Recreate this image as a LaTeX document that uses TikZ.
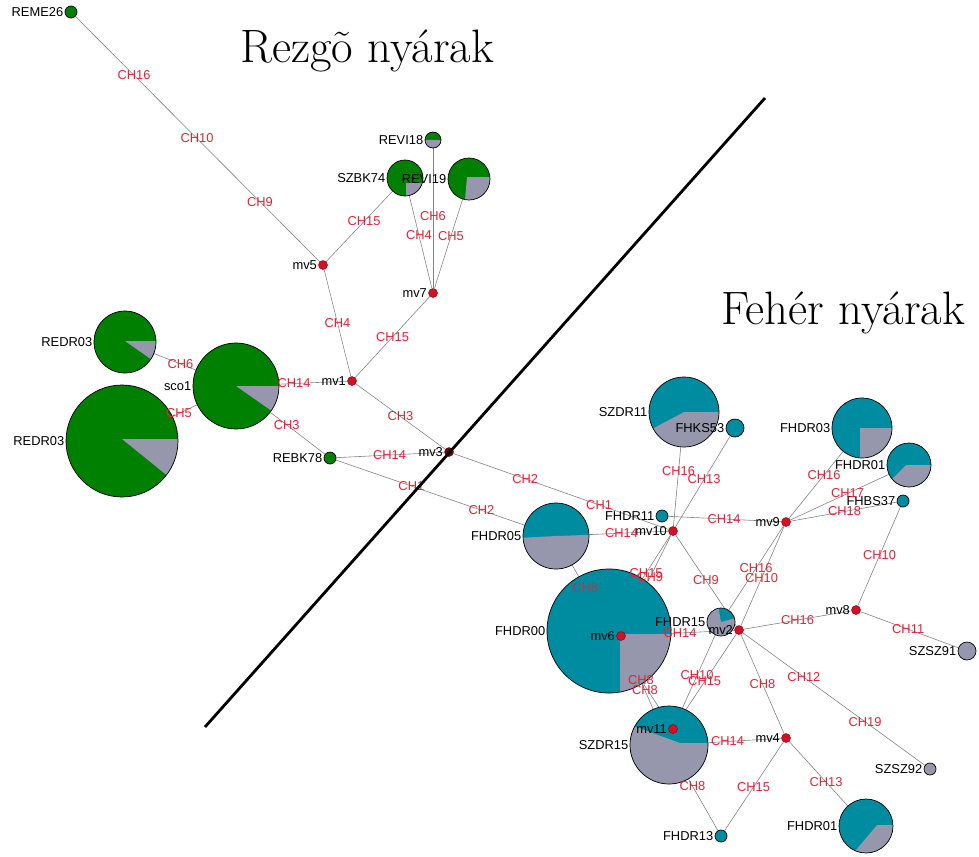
\documentclass[tikz,border=0pt]{standalone}
\usepackage{fontspec}
\setsansfont{Liberation Sans}
\usetikzlibrary{backgrounds}
\definecolor{hgreen}{RGB}{0,128,0}
\definecolor{hteal}{RGB}{0,140,160}
\definecolor{hgrey}{RGB}{150,150,172}
\definecolor{mvred}{RGB}{215,15,35}
\definecolor{chred}{RGB}{228,35,55}
\definecolor{lngrey}{RGB}{130,130,130}
\tikzset{%
	hap/.style={circle, draw=black, line width=0.6pt, inner sep=0pt, minimum size=#1*0.06cm},
	gpie/.style n args={4}{path picture={\fill[hgrey] ([shift={({#1*0.03cm},{#2*0.03cm})}]path picture bounding box.center) -- ++(#3:4cm) arc[start angle=#3, end angle=#4, radius=4cm] -- cycle;}},
	mv/.style={circle, draw=mvred!60!black, fill=mvred, inner sep=0pt, minimum size=0.27cm},
	nlab/.style={font=\sffamily\fontsize{11}{12}\selectfont, inner sep=1pt},
	ch/.style={font=\sffamily\fontsize{11}{12}\selectfont, text=chred, inner sep=0pt},
	ln/.style={draw=lngrey, line width=0.5pt},
	ttl/.style={font=\rmfamily\fontsize{40}{42}\selectfont, inner sep=0pt},
	divider/.style={draw=black, line width=2.4pt}
}
\begin{document}
\begin{tikzpicture}[x=0.03cm, y=-0.03cm]
	\useasboundingbox (0,0) rectangle (979,856);

	\node[ttl] (rezgo) at (367,51) {Rezgõ nyárak};
	\node[ttl] (feher) at (843,313) {Fehér nyárak};

	% Rezgo nyarak
	\node[hap=6, fill=hgreen, label={[nlab]left:REME26}] (REME26) at (71,12) {};
	\node[hap=18, fill=hgreen, gpie={1}{-5}{-90}{0}, label={[nlab]left:SZBK74}] (SZBK74) at (405,178) {};
	\node[hap=8, fill=hgreen, gpie={0}{0}{180}{360}, label={[nlab]left:REVI18}] (REVI18) at (433,140) {};
	\node[hap=21, fill=hgreen, gpie={-2}{2}{-95}{0}, label={[nlab]left:REVI19}] (REVI19) at (469,179) {};
	\node[hap=31, fill=hgreen, gpie={0}{1}{-35}{0}, label={[nlab]left:REDR03}] (REDR03a) at (125,342) {};
	\node[hap=56, fill=hgreen, gpie={0}{2}{-39}{0}, label={[nlab]left:REDR03}] (REDR03b) at (122,441) {};
	\node[hap=43, fill=hgreen, gpie={0}{0}{-35}{0}, label={[nlab]left:sco1}] (sco1) at (236,386) {};
	\node[hap=6, fill=hgreen, label={[nlab]left:REBK78}] (REBK78) at (330,458) {};
	\node[mv, label={[nlab]left:mv5}] (mv5) at (323,265) {};
	\node[mv, label={[nlab]left:mv7}] (mv7) at (433,293) {};
	\node[mv, label={[nlab]left:mv1}] (mv1) at (352,381) {};
	\node[mv, fill=mvred!45!black, label={[nlab]left:mv3}] (mv3) at (449,452) {};

	% Feher nyarak
	\node[hap=35, fill=hteal, gpie={0}{0}{208}{360}, label={[nlab]left:SZDR11}] (SZDR11) at (684,412) {};
	\node[hap=9, fill=hteal, label={[nlab]left:FHKS53}] (FHKS53) at (735,428) {};
	\node[hap=30, fill=hteal, gpie={-2}{0}{-90}{0}, label={[nlab]left:FHDR03}] (FHDR03) at (862,428) {};
	\node[hap=22, fill=hteal, gpie={-3}{0}{225}{360}, label={[nlab]left:FHDR01}] (FHDR01a) at (909,465) {};
	\node[hap=6, fill=hteal, label={[nlab]left:FHBS37}] (FHBS37) at (903,501) {};
	\node[hap=6, fill=hteal, label={[nlab]left:FHDR11}] (FHDR11) at (662,516) {};
	\node[hap=33, fill=hteal, gpie={0}{0}{183}{362}, label={[nlab]left:FHDR05}] (FHDR05) at (556,536) {};
	\node[hap=62, fill=hteal, gpie={11}{-3}{-90}{0}, label={[nlab]left:FHDR00}] (FHDR00) at (609,631) {};
	\node[hap=14, fill=hteal, gpie={0}{0}{100}{375}, label={[nlab]left:FHDR15}] (FHDR15) at (721,622) {};
	\node[hap=39, fill=hteal, gpie={11}{2}{160}{360}, label={[nlab]left:SZDR15}] (SZDR15) at (669,745) {};
	\node[hap=6, fill=hteal, label={[nlab]left:FHDR13}] (FHDR13) at (721,836) {};
	\node[hap=27, fill=hteal, gpie={11}{1}{230}{360}, label={[nlab]left:FHDR01}] (FHDR01b) at (866,826) {};
	\node[hap=9, fill=hgrey, label={[nlab]left:SZSZ91}] (SZSZ91) at (967,651) {};
	\node[hap=6, fill=hgrey, label={[nlab]left:SZSZ92}] (SZSZ92) at (930,769) {};
	\node[mv, label={[nlab]left:mv9}] (mv9) at (786,522) {};
	\node[mv, label={[nlab]left:mv10}] (mv10) at (673,531) {};
	\node[mv, label={[nlab]left:mv6}] (mv6) at (621,636) {};
	\node[mv, label={[nlab]left:mv2}] (mv2) at (739,630) {};
	\node[mv, label={[nlab]left:mv8}] (mv8) at (856,610) {};
	\node[mv, label={[nlab]left:mv4}] (mv4) at (786,738) {};
	\node[mv, label={[nlab]left:mv11}] (mv11) at (673,729) {};

	% links under the circles
	\begin{scope}[on background layer]
		\path[ln] (REME26) edge (mv5)  (mv5) edge (SZBK74)  (mv5) edge (mv1)
			(mv7) edge (SZBK74)  (mv7) edge (REVI18)  (mv7) edge (REVI19)  (mv7) edge (mv1)
			(mv1) edge (sco1)  (mv1) edge (mv3)  (sco1) edge (REDR03a)  (sco1) edge (REDR03b)
			(sco1) edge (REBK78)  (REBK78) edge (mv3)  (REBK78) edge (FHDR05)  (mv3) edge (mv10);
		\path[ln] (FHDR05) edge (mv10)  (FHDR11) edge (mv9)  (mv10) edge (SZDR11)  (mv10) edge (FHKS53)
			(mv10) edge (FHDR00)  (mv10) edge (mv6)  (mv10) edge (mv2)  (FHDR05) edge (FHDR00)
			(mv6) edge (mv2)  (mv9) edge (FHDR03)  (mv9) edge (FHDR01a)  (mv9) edge (FHBS37)
			(mv9) edge (FHDR15)  (mv9) edge (mv2)  (FHBS37) edge (mv8)  (mv8) edge (mv2)
			(mv8) edge (SZSZ91)  (mv2) edge (SZSZ92)  (mv2) edge (mv4)  (FHDR15) edge (mv11)
			(mv2) edge (mv11)  (FHDR00) edge (mv11)  (mv6) edge (SZDR15)  (SZDR15) edge (FHDR13)
			(mv4) edge (FHDR13)  (mv4) edge (SZDR15)  (mv4) edge (FHDR01b);
	\end{scope}

	% mutations
	\path (REME26.center) -- node[ch, pos=.25] {CH16} node[ch, pos=.5] {CH10} node[ch, pos=.75] {CH9} (mv5.center);
	\path (mv5.center) -- node[ch] {CH15} (SZBK74.center);
	\path (mv5.center) -- node[ch] {CH4} (mv1.center);
	\path (mv7.center) -- node[ch] {CH4} (SZBK74.center);
	\path (mv7.center) -- node[ch] {CH6} (REVI18.center);
	\path (mv7.center) -- node[ch] {CH5} (REVI19.center);
	\path (mv7.center) -- node[ch] {CH15} (mv1.center);
	\path (mv1.center) -- node[ch] {CH14} (sco1.center);
	\path (mv1.center) -- node[ch] {CH3} (mv3.center);
	\path (sco1.center) -- node[ch] {CH6} (REDR03a.center);
	\path (sco1.center) -- node[ch] {CH5} (REDR03b.center);
	\path (sco1.center) -- node[ch, pos=.54] {CH3} (REBK78.center);
	\path (REBK78.center) -- node[ch] {CH14} (mv3.center);
	\path (REBK78.center) -- node[ch, pos=.36] {CH1} node[ch, pos=.67] {CH2} (FHDR05.center);
	\path (mv3.center) -- node[ch, pos=.34] {CH2} node[ch, pos=.67] {CH1} (mv10.center);
	\path (FHDR05.center) -- node[ch, pos=.56] {CH14} (mv10.center);
	\path (FHDR11.center) -- node[ch] {CH14} (mv9.center);
	\path (mv10.center) -- node[ch] {CH16} (SZDR11.center);
	\path (mv10.center) -- node[ch] {CH13} (FHKS53.center);
	\path (mv10.center) -- node[ch, pos=.42] {CH15} (FHDR00.center);
	\path (mv10.center) -- node[ch, pos=.44] {CH9} (mv6.center);
	\path (mv10.center) -- node[ch] {CH9} (mv2.center);
	\path (FHDR05.center) -- node[ch, pos=.55] {CH8} (FHDR00.center);
	\path (mv6.center) -- node[ch] {CH14} (mv2.center);
	\path (mv9.center) -- node[ch] {CH16} (FHDR03.center);
	\path (mv9.center) -- node[ch] {CH17} (FHDR01a.center);
	\path (mv9.center) -- node[ch] {CH18} (FHBS37.center);
	\path (mv9.center) -- node[ch, pos=.46] {CH16} (FHDR15.center);
	\path (mv9.center) -- node[ch, pos=.52] {CH10} (mv2.center);
	\path (FHBS37.center) -- node[ch] {CH10} (mv8.center);
	\path (mv8.center) -- node[ch] {CH16} (mv2.center);
	\path (mv8.center) -- node[ch, pos=.47] {CH11} (SZSZ91.center);
	\path (mv2.center) -- node[ch, pos=.34] {CH12} node[ch, pos=.66] {CH19} (SZSZ92.center);
	\path (mv2.center) -- node[ch] {CH8} (mv4.center);
	\path (FHDR15.center) -- node[ch] {CH10} (mv11.center);
	\path (mv2.center) -- node[ch, pos=.52] {CH15} (mv11.center);
	\path (FHDR00.center) -- node[ch] {CH8} (mv11.center);
	\path (mv6.center) -- node[ch] {CH8} (SZDR15.center);
	\path (SZDR15.center) -- node[ch, pos=.45] {CH8} (FHDR13.center);
	\path (mv4.center) -- node[ch] {CH15} (FHDR13.center);
	\path (mv4.center) -- node[ch] {CH14} (SZDR15.center);
	\path (mv4.center) -- node[ch] {CH13} (FHDR01b.center);

	\coordinate (divA) at (205,727);
	\coordinate (divB) at (765,98);
	\draw[divider] (divA) -- (divB);
\end{tikzpicture}
\end{document}
